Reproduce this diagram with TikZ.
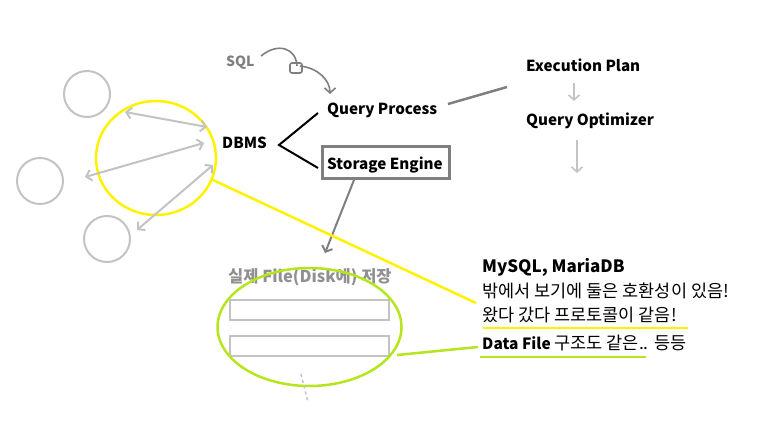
\documentclass[tikz,border=0pt]{standalone}
\usepackage{fontspec}
\setmainfont{Noto Sans CJK KR}
\usetikzlibrary{arrows.meta}
\definecolor{lgray}{HTML}{C3C3C3}
\definecolor{dgray}{HTML}{7F7F7F}
\definecolor{mgray}{HTML}{909090}
\definecolor{yel}{HTML}{FFF200}
\definecolor{grn}{HTML}{B5E61D}
\newcommand{\krs}{\fontsize{17.5}{20}\selectfont}
\tikzset{
  lbl/.style={anchor=base west, inner sep=0pt, font=\fontsize{15.2}{17}\selectfont\bfseries},
  txt/.style={anchor=base west, inner sep=0pt, font=\krs},
  barb/.style={-{Straight Barb[length=5pt,width=11pt]}},
  dbarb/.style={{Straight Barb[length=5pt,width=11pt]}-{Straight Barb[length=5pt,width=11pt]}},
}
\begin{document}
\begin{tikzpicture}[x=1pt,y=-1pt]
\useasboundingbox (0,0) rectangle (774,425);
% gray client circles
\draw[lgray, line width=2pt] (87,94) circle (23) (40,181) circle (23) (107,239) circle (23);
% yellow circle
\draw[yel, line width=2.5pt] (156,158) ellipse (60 and 57);
% double arrows
\coordinate (a1) at (125,112); \coordinate (b1) at (207,127);
\coordinate (a2) at (85,177);  \coordinate (b2) at (204,143);
\coordinate (a3) at (137,230); \coordinate (b3) at (213,165);
\draw[lgray, line width=2pt, dbarb] (a1) -- (b1);
\draw[lgray, line width=2pt, dbarb] (a2) -- (b2);
\draw[lgray, line width=2pt, dbarb] (a3) -- (b3);
% labels
\node[lbl] (dbms) at (222,149) {DBMS};
\node[lbl] (qp) at (327,115) {Query Process};
\node[lbl] (se) at (327,169) {Storage Engine};
\node[lbl, text=dgray, font=\fontsize{14}{16}\selectfont\bfseries] (sql) at (226,67) {SQL};
\node[lbl] (ep) at (526,72) {Execution Plan};
\node[lbl] (qo) at (526,126) {Query Optimizer};
\draw[dgray, line width=3pt] (322,147) rectangle (449,179);
% black fork
\coordinate (fk) at (279,145); \coordinate (fq) at (318,113); \coordinate (fs) at (318,168);
\draw[black, line width=2pt] (fq) -- (fk) -- (fs);
% SQL curve
\coordinate (s0) at (261,56); \coordinate (s1) at (297,66); \coordinate (s2) at (330,94);
\draw[dgray, line width=1.6pt] (s0) .. controls (278,42) and (296,48) .. (s1);
\draw[dgray, line width=1.6pt, rounded corners=2pt] (290,63) rectangle (302,73);
\draw[dgray, line width=1.6pt, barb] (300,66) .. controls (318,68) and (330,80) .. (s2);
% QP -> EP line
\coordinate (q1) at (448,104); \coordinate (q2) at (507,87);
\draw[dgray, line width=2.5pt] (q1) -- (q2);
% EP -> QO arrow
\coordinate (e1) at (574,83); \coordinate (e2) at (574,101);
\draw[lgray, line width=1.6pt, barb] (e1) -- (e2);
\coordinate (o1) at (577,140); \coordinate (o2) at (577,173);
\draw[lgray, line width=1.6pt, barb] (o1) -- (o2);
% storage engine arrow
\coordinate (g1) at (354,180); \coordinate (g2) at (325,253);
\draw[dgray, line width=2pt, barb] (g1) -- (g2);
% disk area
\node[lbl, text=mgray, font=\fontsize{16.5}{18}\selectfont\bfseries] (disk) at (228,282) {실제 File(Disk에) 저장};
\draw[lgray, line width=2.5pt] (230,300) rectangle (389,320);
\draw[lgray, line width=2.5pt] (230,336) rectangle (389,356);
\draw[grn, line width=2.5pt] (309.5,327) ellipse (92 and 59);
\draw[lgray, line width=1.5pt, dashed] (301,374) -- (308,402);
% yellow connector
\coordinate (y1) at (213,180); \coordinate (y2) at (476,303);
\draw[yel, line width=2.5pt] (y1) -- (y2);
% green connector
\coordinate (gr1) at (397,355); \coordinate (gr2) at (478,347);
\draw[grn, line width=2.5pt] (gr1) -- (gr2);
% note text
\node[lbl, font=\fontsize{17}{19}\selectfont\bfseries] (t1) at (482,272) {MySQL, MariaDB};
\node[txt] (t2) at (482,297) {밖에서 보기에 둘은 호환성이 있음!};
\node[txt] (t3) at (482,321) {왔다 갔다 프로토콜이 같음!};
\node[txt] (t4) at (482,349) {{\fontsize{15.5}{17}\selectfont\bfseries Data File} 구조도 같은.. 등등};
\draw[yel, line width=2.5pt] (483,328) -- (688,328);
\draw[grn, line width=2.5pt] (480,357) -- (646,357);
\end{tikzpicture}
\end{document}
